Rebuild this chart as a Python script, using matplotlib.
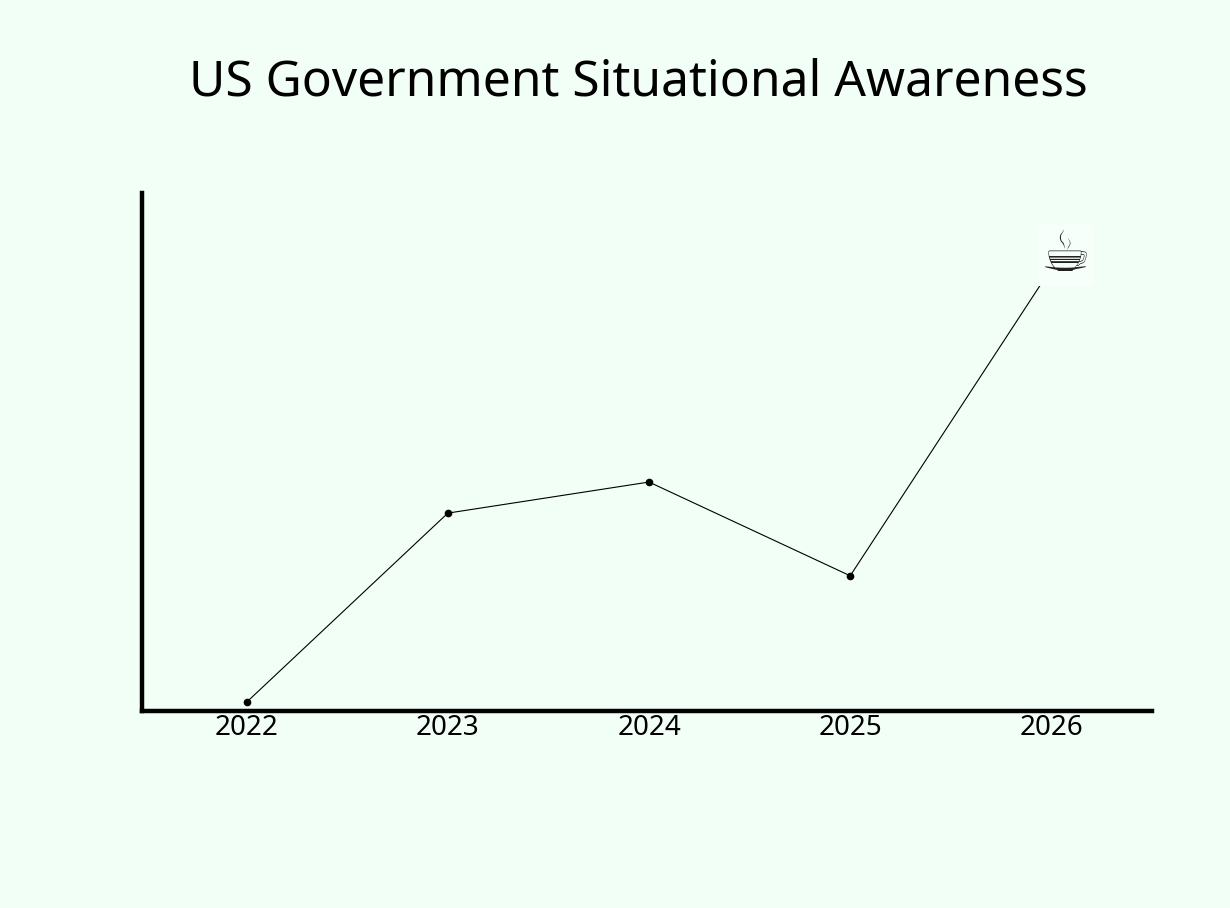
import matplotlib
matplotlib.use("Agg")
import matplotlib.pyplot as plt

years = [2022, 2023, 2024, 2025, 2026]
awareness = [1.7, 38.2, 44.2, 26.1, 85.5]
tick_labels = ["2022", "2023", "2024", "2025", "2026"]
title = "US Government Situational Awareness"

bg = "#F2FFF6"
fig = plt.figure(figsize=(12.3, 9.08), dpi=100, facecolor=bg)
ax = fig.add_axes([142/1230, 1 - 711/908, (1152-142)/1230, (711-193)/908])
ax.set_facecolor(bg)

ax.plot(years, awareness, color="black", lw=0.8, zorder=2)
ax.plot(years[:-1], awareness[:-1], "o", color="black", ms=4.5, zorder=3)

# teacup icon at the last point
ax.annotate("\u2615", xy=(years[-1], awareness[-1]), xytext=(10, 9),
            textcoords="offset points", fontsize=40, family="DejaVu Sans",
            ha="center", va="center", color="#222222", zorder=4,
            bbox=dict(boxstyle="square,pad=0.06", fc="#F6FFF9", ec="none"))

ax.set_xlim(2021.48, 2026.5)
ax.set_ylim(0, 100)
ax.set_xticks(years)
ax.set_xticklabels(tick_labels, family="Noto Sans", fontsize=20)
ax.tick_params(axis="x", length=0, pad=2)
ax.set_yticks([])
for s in ["top", "right"]:
    ax.spines[s].set_visible(False)
for s in ["left", "bottom"]:
    ax.spines[s].set_linewidth(3.2)
    ax.spines[s].set_color("black")

fig.text(638/1230, 1 - 83/908, title, ha="center", va="center",
         family="Noto Sans", fontsize=35.8, color="black")

fig.savefig("out.png", dpi=100, facecolor=bg)
